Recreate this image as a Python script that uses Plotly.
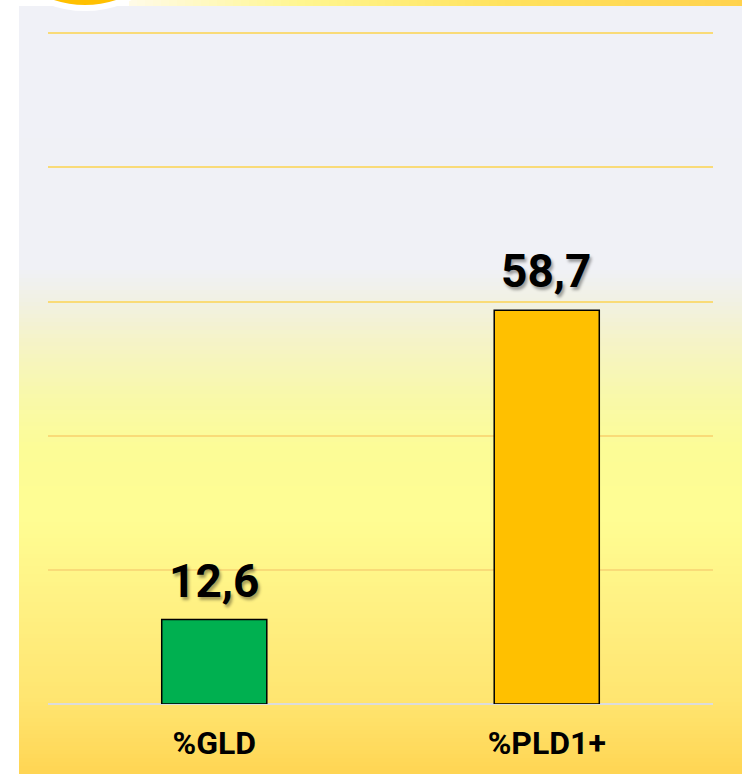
import plotly.graph_objects as go

# Chart data
categories = ["%GLD", "%PLD1+"]
values = [12.6, 58.7]
bar_colors = ["#00b050", "#ffc000"]
y_ticks = [0, 20, 40, 60, 80, 100]

W, H = 742, 774
L, R, T, B = 48, 29, 32, 70
PW, PH = W - L - R, H - T - B


def px_x(px):
    return (px - L) / PW


def px_y(py):
    return (H - B - py) / PH


def hex_rgb(h):
    h = h.lstrip("#")
    return tuple(int(h[i:i + 2], 16) for i in (0, 2, 4))


def lerp_color(stops, pos):
    for (p0, c0), (p1, c1) in zip(stops, stops[1:]):
        if p0 <= pos <= p1:
            t = 0 if p1 == p0 else (pos - p0) / (p1 - p0)
            a, b = hex_rgb(c0), hex_rgb(c1)
            return "rgb({},{},{})".format(*[round(a[i] + (b[i] - a[i]) * t) for i in range(3)])
    return stops[-1][1]


shapes = []

# Vertical gradient behind the panel
panel_stops = [
    (6, "#f0f1f7"), (268, "#f0f1f6"), (300, "#f1f1e4"), (340, "#f5f3c8"),
    (400, "#f9f9a8"), (450, "#fcfc96"), (520, "#fffd93"), (620, "#ffef80"),
    (700, "#ffe570"), (774, "#ffd553"),
]
step = 4
for y0 in range(6, 774, step):
    y1 = min(y0 + step, 774)
    shapes.append(dict(
        type="rect", xref="paper", yref="paper", layer="below",
        x0=px_x(19), x1=px_x(742), y0=px_y(y1), y1=px_y(y0),
        fillcolor=lerp_color(panel_stops, (y0 + y1) / 2), line=dict(width=0),
    ))

# Horizontal gradient strip along the top edge
bar_stops = [(129, "#fffbe8"), (300, "#fff690"), (500, "#ffe25e"), (742, "#ffd24d")]
for x0 in range(129, 742, 8):
    x1 = min(x0 + 8, 742)
    shapes.append(dict(
        type="rect", xref="paper", yref="paper", layer="below",
        x0=px_x(x0), x1=px_x(x1), y0=px_y(6), y1=px_y(-1),
        fillcolor=lerp_color(bar_stops, (x0 + x1) / 2), line=dict(width=0),
    ))

# Badge circle at the top-left corner
cx, cy, r = 85, -94, 102
shapes.append(dict(
    type="circle", xref="paper", yref="paper", layer="above",
    x0=px_x(cx - r), x1=px_x(cx + r), y0=px_y(cy + r), y1=px_y(cy - r),
    fillcolor="#ffc000", line=dict(color="white", width=6),
))

# Value labels above each bar
label_font = dict(family="Roboto", size=46, weight="bold", color="black",
                  shadow="2px 3px 3px rgba(0,0,0,0.35)")
annotations = [
    dict(x=c, y=v, xref="x", yref="y", text=f"{v:.1f}".replace(".", ","),
         showarrow=False, yanchor="bottom", yshift=10, font=label_font)
    for c, v in zip(categories, values)
]

fig = go.Figure(go.Bar(
    x=categories,
    y=values,
    width=0.316,
    marker=dict(color=bar_colors, line=dict(color="black", width=1.5)),
    hoverinfo="skip",
))

fig.update_layout(
    width=W, height=H,
    margin=dict(l=L, r=R, t=T, b=B, pad=0),
    paper_bgcolor="white",
    plot_bgcolor="rgba(0,0,0,0)",
    separators=",.",
    showlegend=False,
    shapes=shapes,
    annotations=annotations,
    xaxis=dict(
        range=[-0.5, 1.5],
        showgrid=False, showline=False, zeroline=False,
        ticks="", ticklabelstandoff=17,
        tickfont=dict(family="Roboto", size=32, weight="bold", color="black"),
    ),
    yaxis=dict(
        range=[0, 100.2], tickvals=y_ticks, showticklabels=False,
        showgrid=True, gridcolor="#f9db78", gridwidth=2,
        zeroline=True, zerolinecolor="#dcdcdc", zerolinewidth=2,
        showline=False, ticks="",
    ),
)

fig.write_html("out.html")
